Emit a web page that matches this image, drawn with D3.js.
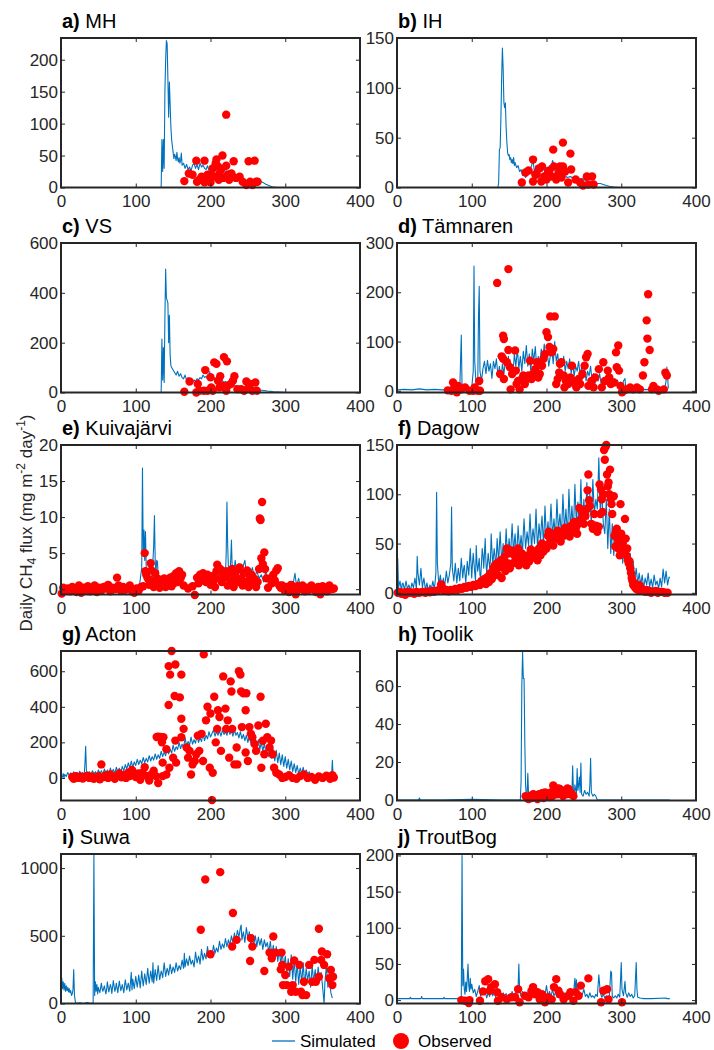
<!DOCTYPE html>
<html>
<head>
<meta charset="utf-8">
<script src="https://cdn.jsdelivr.net/npm/d3@7"></script>
<style>
  body { margin: 0; background: #fff; }
  text { font-family: "Liberation Sans", Arial, Helvetica, sans-serif; }
</style>
</head>
<body>
<div id="chart"></div>
<script>
// [day of year, daily CH4 flux]
const mhSim = [[1,0],[134,0],[135,75],[136,25],[137,75],[138,30],[139,150],[140,200],[141,230],[142,225],[143,170],[144,110],[145,165],[146,130],[147,95],[148,75],[149,65],[150,55],[151,45],[152,52],[153,48],[154,42],[155,55],[156,45],[157,40],[158,47],[159,38],[160,42],[161,54],[162,35],[164,38],[166,30],[168,36],[170,28],[172,32],[174,26],[176,35],[178,38],[180,30],[182,36],[184,28],[186,38],[188,32],[190,35],[192,30],[194,28],[196,34],[198,26],[200,30],[202,35],[204,28],[206,32],[208,30],[210,26],[212,32],[214,28],[216,30],[218,25],[220,30],[222,22],[224,26],[226,20],[228,22],[230,18],[232,20],[234,16],[236,18],[238,15],[240,14],[244,12],[248,10],[252,11],[256,8],[260,7],[264,6],[268,9],[270,8],[274,5],[278,3],[282,1],[286,0.5],[290,0],[365,0]];
const mhObs = [[165,10],[171,22],[176,20],[181,42],[182,9],[185,12],[188,17],[192,42],[192,8],[196,12],[196,20],[200,8],[201,20],[203,30],[205,17],[207,38],[208,44],[210,33],[211,12],[212,22],[214,28],[216,50],[217,15],[221,114],[221,34],[223,20],[225,12],[228,22],[231,41],[234,15],[239,17],[243,9],[248,4],[251,41],[253,9],[256,4],[259,42],[261,9],[263,9]];

const ihSim = [[1,0],[135,0],[136,5],[137,38],[138,40],[139,70],[140,110],[141,140],[142,120],[143,85],[144,80],[145,85],[146,60],[147,45],[148,35],[149,32],[150,33],[151,28],[152,30],[153,25],[154,28],[155,24],[156,30],[157,22],[158,25],[160,20],[162,22],[164,16],[166,18],[168,12],[170,14],[172,10],[174,12],[176,14],[178,18],[180,22],[182,27],[184,15],[186,22],[188,18],[190,14],[192,20],[194,16],[196,22],[198,16],[200,20],[202,14],[204,22],[206,18],[208,27],[210,24],[212,15],[214,18],[216,12],[218,14],[220,10],[224,12],[228,10],[232,11],[236,9],[240,10],[244,8],[248,9],[252,7],[256,6],[260,5],[264,5],[268,4],[272,4],[276,3],[280,2],[285,1],[290,0.5],[296,0],[365,0]];
const ihObs = [[167,5],[172,15],[176,17],[182,28],[182,6],[185,13],[187,13],[190,19],[193,6],[194,21],[197,11],[200,8],[202,15],[204,17],[207,11],[209,38],[210,21],[213,8],[216,14],[218,21],[220,10],[222,45],[222,21],[225,16],[229,5],[232,34],[233,18],[239,8],[245,5],[249,2],[254,11],[256,3],[261,11],[263,3]];

const vsSim = [[1,0],[134,0],[135,215],[136,50],[137,180],[138,40],[139,300],[140,495],[141,380],[142,370],[143,360],[144,200],[145,310],[146,150],[147,108],[148,100],[149,95],[150,90],[152,80],[154,70],[156,85],[158,65],[160,75],[162,60],[164,55],[166,70],[168,50],[170,60],[172,45],[174,55],[176,40],[178,50],[180,45],[182,55],[184,50],[186,60],[188,55],[190,70],[192,60],[194,65],[196,55],[198,75],[199,84],[200,60],[202,55],[204,62],[206,52],[208,58],[210,48],[212,52],[214,45],[216,48],[218,40],[220,44],[224,36],[228,32],[232,28],[236,25],[240,22],[244,20],[248,18],[252,15],[256,14],[260,12],[264,10],[268,9],[272,8],[276,6],[280,5],[284,3],[290,2],[296,1],[301,0],[365,0]];
const vsObs = [[165,3],[172,44],[181,0],[183,34],[185,7],[191,7],[193,90],[196,7],[200,61],[201,20],[203,7],[205,121],[208,115],[210,47],[212,20],[213,65],[216,27],[218,142],[221,7],[222,125],[223,27],[227,34],[230,47],[232,65],[236,13],[241,13],[245,7],[248,44],[251,20],[253,34],[256,7],[260,40],[262,7]];

const tamSim = [[1,2],[10,3],[20,2],[30,4],[40,2],[50,3],[60,2],[68,3],[75,4],[80,3],[84,5],[85,60],[86,113],[87,10],[90,4],[95,5],[100,6],[102,40],[103,253],[104,60],[106,8],[108,10],[109,150],[110,212],[111,40],[113,20],[115,45],[117,60],[119,35],[121,62],[123,40],[125,55],[127,25],[129,60],[131,45],[133,65],[135,30],[137,50],[139,20],[141,55],[143,35],[145,60],[147,45],[149,70],[151,40],[153,55],[155,30],[157,75],[159,50],[161,85],[163,45],[165,70],[167,40],[169,80],[171,55],[173,92],[175,50],[177,75],[179,40],[181,85],[183,60],[185,90],[187,45],[189,70],[191,55],[193,85],[195,65],[197,95],[199,60],[201,80],[203,50],[205,70],[207,85],[209,55],[211,100],[213,60],[215,75],[217,45],[219,65],[221,50],[223,70],[225,40],[227,60],[229,45],[231,65],[233,35],[235,55],[237,30],[239,50],[241,40],[243,60],[245,30],[247,50],[249,25],[251,45],[253,20],[255,40],[257,30],[259,50],[261,20],[263,35],[265,15],[267,30],[269,20],[271,35],[273,15],[275,25],[277,10],[279,30],[281,18],[283,35],[285,12],[287,28],[289,15],[291,25],[293,10],[295,22],[297,8],[299,18],[301,6],[303,20],[305,25],[306,4],[310,3],[320,2],[330,3],[340,2],[350,3],[358,4],[360,20],[361,48],[362,30],[363,5]];
const tamObs = [[68,1],[73,0],[75,17],[77,7],[80,-3],[82,10],[86,3],[91,7],[97,0],[102,0],[104,7],[108,0],[110,20],[111,0],[134,219],[149,247],[142,112],[143,105],[140,70],[142,65],[138,34],[143,24],[147,58],[149,83],[151,48],[152,3],[154,34],[158,82],[159,41],[160,14],[162,20],[164,3],[167,24],[169,31],[171,14],[173,24],[176,31],[178,61],[180,24],[182,34],[185,44],[187,58],[189,27],[191,34],[194,51],[196,65],[198,75],[200,119],[202,109],[204,89],[205,151],[207,78],[209,85],[211,151],[213,14],[215,24],[217,37],[218,55],[220,58],[223,31],[224,7],[226,20],[229,14],[232,27],[234,51],[236,20],[238,14],[240,7],[243,24],[245,14],[248,34],[251,51],[253,68],[255,75],[256,10],[260,20],[263,7],[265,27],[270,44],[274,7],[276,58],[278,20],[282,41],[284,27],[286,14],[290,17],[293,78],[296,92],[294,48],[297,41],[299,10],[301,-3],[303,0],[307,3],[312,7],[316,3],[321,7],[325,3],[329,31],[331,58],[334,143],[335,106],[336,196],[338,83],[341,3],[343,10],[348,3],[350,0],[357,3],[359,37],[361,31]];

const kuiSim = [[1,0.1],[20,0.2],[40,0.1],[60,0.2],[80,0.1],[100,0.2],[105,0.5],[108,3],[109,16.8],[110,5],[111,8.2],[112,4],[113,8],[114,3],[116,2],[118,1],[120,1.5],[122,2],[124,6],[125,10.2],[126,4],[127,2],[128,4],[129,3.8],[130,2],[132,1.5],[135,1],[140,1.5],[145,1],[150,2],[155,1.5],[160,1],[165,0.5],[170,0.3],[175,0.5],[180,1],[185,1.5],[190,1],[195,1.5],[200,1],[205,2],[210,1.5],[215,2],[218,3],[220,2],[221,5],[222,12.1],[223,6],[224,3],[226,2],[227,4],[228,6.8],[229,3],[231,2],[233,4],[235,2.5],[238,3.5],[240,2],[243,3],[246,4],[248,2],[250,3],[253,2],[256,3],[259,1.5],[262,2.5],[265,1.5],[268,2],[271,1],[274,2.5],[277,1],[280,2],[283,0.8],[286,1.5],[290,0.5],[295,1],[300,0.3],[305,1],[310,0.5],[313,2.2],[315,0.5],[318,1.5],[320,0.3],[330,0.2],[340,0.1],[350,0.1],[365,0]];
const kuiObs = [[1,-0.6],[3,0.2],[6,-0.2],[9,0.1],[12,-0.3],[15,0.3],[18,0],[21,-0.4],[24,0.5],[27,-0.5],[30,0.2],[33,-0.1],[36,0.4],[39,-0.3],[42,0.1],[45,0.5],[48,-0.4],[51,0.2],[54,-0.2],[57,0.3],[60,0.1],[63,0.6],[66,-0.3],[69,0.2],[72,0],[75,1.6],[77,0.5],[80,-0.2],[83,0.3],[86,-0.1],[89,0.2],[92,0.5],[95,-0.3],[98,-0.5],[101,0.1],[104,-0.2],[107,0.3],[110,0.4],[112,5.0],[113,2.5],[114,2.0],[116,1.5],[118,0.6],[120,3.6],[121,2.6],[123,1.2],[124,0.3],[126,2.2],[128,0.8],[130,1.4],[132,0.2],[134,1.0],[136,0.6],[138,1.5],[140,0.3],[142,1.2],[144,0.8],[146,1.6],[148,0.4],[150,1.8],[152,0.9],[154,2.2],[156,1.0],[158,2.5],[160,1.5],[162,2.0],[164,0.5],[170,0.1],[176,0.4],[179,-0.8],[182,1.6],[184,0.8],[186,2.0],[188,1.2],[190,2.2],[192,1.5],[194,1.0],[196,2.0],[198,1.4],[200,0.6],[202,1.8],[204,1.2],[206,0.3],[208,2.5],[209,3.4],[211,1.5],[213,2.8],[215,1.0],[217,2.2],[219,1.6],[221,2.5],[223,0.5],[225,2.0],[227,1.2],[229,2.8],[231,0.3],[233,1.8],[235,2.6],[237,1.0],[239,3.0],[241,1.5],[243,0.5],[245,2.2],[247,1.0],[249,2.6],[251,0.3],[253,1.6],[255,2.0],[257,0.8],[259,1.4],[261,0.3],[263,1.0],[265,2.8],[266,9.8],[267,9.6],[268,4.3],[269,12.1],[270,3.5],[272,5.1],[273,2.8],[275,1.5],[277,0.2],[280,1.5],[282,0.8],[284,2.0],[286,1.2],[288,2.6],[290,2.9],[292,0.5],[294,0.2],[296,0.5],[299,-0.2],[302,0.3],[305,-0.4],[308,0.6],[311,0.1],[314,-0.7],[317,0.4],[320,0],[323,0.5],[326,-0.3],[329,0.2],[332,-0.1],[335,0.5],[338,0],[341,-0.4],[344,0.3],[347,-0.7],[350,0.4],[353,0],[356,-0.3],[359,0.5],[362,0],[365,0.1]];

const dagSim = [[1,35],[2,5],[4,12],[6,2],[7,9],[8,10],[10,3],[12,12],[14,4],[15,6],[16,8],[18,2],[20,10],[22,5],[24,15],[26,4],[27,37],[28,20],[30,8],[32,25],[34,5],[35,11],[36,15],[38,3],[40,10],[42,2],[44,8],[46,4],[48,12],[50,3],[52,20],[53,102],[54,30],[56,8],[58,18],[60,5],[62,15],[63,9],[64,8],[66,22],[68,10],[70,18],[72,30],[73,87],[74,25],[76,12],[78,30],[79,20],[80,10],[82,25],[84,12],[86,35],[88,15],[89,24],[90,28],[92,10],[94,32],[96,18],[98,45],[100,15],[101,30],[102,40],[104,20],[105,12],[106,48],[107,30],[108,22],[110,35],[111,18],[112,15],[114,45],[115,38],[116,25],[118,55],[119,30],[120,20],[122,40],[124,25],[125,33],[126,60],[128,28],[130,45],[131,38],[132,22],[134,55],[136,30],[137,48],[138,62],[140,32],[141,40],[142,50],[144,28],[146,65],[147,50],[148,35],[150,55],[151,45],[152,40],[154,70],[156,38],[157,52],[158,60],[160,35],[162,68],[163,55],[164,42],[166,58],[168,40],[169,62],[170,75],[172,45],[174,62],[175,55],[176,48],[178,80],[180,42],[181,58],[182,65],[184,50],[186,85],[187,62],[188,45],[190,70],[192,52],[193,68],[194,78],[196,48],[198,88],[199,70],[200,55],[202,72],[204,50],[205,75],[206,90],[208,58],[210,75],[211,65],[212,55],[214,95],[216,60],[217,72],[218,80],[220,58],[222,100],[223,82],[224,62],[226,85],[228,60],[229,78],[230,105],[232,65],[234,88],[235,75],[236,62],[238,110],[240,68],[241,85],[242,92],[244,65],[246,115],[247,90],[248,70],[250,95],[252,68],[253,88],[254,112],[256,75],[258,100],[259,82],[260,70],[262,115],[264,80],[266,95],[268,85],[270,137],[272,80],[274,105],[276,70],[278,60],[280,95],[282,45],[284,85],[286,40],[288,70],[290,38],[292,60],[294,42],[296,55],[298,35],[300,62],[302,30],[304,50],[306,28],[308,45],[310,22],[312,40],[314,18],[316,32],[318,12],[320,25],[322,10],[324,20],[326,8],[328,18],[330,5],[332,15],[334,8],[336,20],[338,6],[340,14],[342,5],[344,18],[346,8],[348,12],[350,4],[352,15],[354,6],[356,24],[358,10],[360,22],[362,8],[364,16],[365,15]];
const dagObs = [[1,0],[3,1],[6,-1],[9,0.5],[11,-2],[14,1],[17,0],[20,0.5],[23,-1],[26,1],[29,0],[32,0.5],[35,1],[38,0],[41,1.5],[44,0.5],[47,2],[50,1],[53,2],[56,3],[59,8.5],[61,5],[63,2],[66,3],[69,1.5],[72,3],[75,2.5],[78,4],[81,3],[84,5],[87,4],[90,6],[93,5],[96,7],[99,6],[102,8],[105,7],[108,9],[111,8],[113,12],[115,10],[117,14],[119,9],[121,16],[123,11],[125,20],[127,14],[129,25],[130,18],[131,28],[132,22],[134,30],[135,18],[137,26],[139,33],[140,15],[142,28],[144,37],[145,22],[147,45],[148,30],[150,40],[151,25],[153,43],[155,30],[157,38],[158,42],[160,32],[162,45],[163,28],[165,35],[167,40],[169,30],[171,35],[173,28],[175,38],[177,32],[179,44],[180,38],[182,36],[184,42],[186,40],[188,33],[190,45],[192,38],[194,50],[196,42],[198,48],[200,45],[202,58],[203,62],[205,52],[207,55],[209,48],[211,60],[213,55],[215,63],[217,58],[219,52],[221,62],[223,58],[225,66],[227,60],[229,64],[231,57],[233,68],[235,62],[237,72],[239,65],[241,60],[243,70],[244,86],[246,75],[248,82],[250,70],[252,78],[254,85],[255,104],[256,120],[257,94],[258,88],[260,70],[262,65],[264,80],[266,68],[268,62],[270,67],[271,110],[272,80],[273,105],[274,95],[275,82],[276,100],[277,145],[278,135],[279,148],[280,150],[281,120],[282,108],[283,112],[284,100],[285,125],[286,95],[287,90],[288,80],[290,98],[291,58],[292,47],[293,62],[294,65],[295,55],[296,45],[297,52],[298,38],[299,90],[300,60],[301,55],[302,50],[303,45],[304,40],[305,75],[306,55],[307,38],[308,45],[309,33],[310,30],[311,32],[312,25],[313,20],[314,15],[315,12],[316,8],[317,10],[318,6],[320,4],[322,3],[324,8],[326,2],[328,4],[330,2],[332,1],[334,3],[336,1],[338,2],[340,0],[343,1],[346,2],[349,0],[352,1],[355,1],[358,0],[362,0]];

const actSim = [[1,10],[2,5],[3,25],[4,0],[5,20],[7,8],[9,30],[11,15],[13,28],[15,10],[17,35],[19,18],[21,30],[23,12],[25,38],[27,20],[29,30],[31,15],[32,80],[33,178],[34,40],[36,20],[38,35],[40,15],[42,40],[44,22],[46,35],[48,18],[50,45],[52,25],[54,40],[56,20],[58,50],[60,28],[62,45],[64,22],[66,55],[68,30],[70,48],[72,25],[74,60],[76,35],[78,55],[80,30],[82,65],[84,40],[86,75],[88,50],[90,85],[92,55],[94,95],[96,60],[98,90],[100,70],[102,105],[104,75],[106,100],[108,80],[110,115],[112,85],[114,110],[116,90],[118,125],[120,95],[122,120],[124,100],[126,135],[128,105],[130,130],[132,110],[134,150],[136,120],[138,145],[140,125],[142,165],[144,135],[146,160],[148,140],[150,185],[152,150],[154,175],[156,160],[158,200],[160,165],[162,190],[164,170],[166,225],[168,180],[170,205],[172,185],[174,230],[176,190],[178,215],[180,195],[182,240],[184,200],[186,225],[188,205],[190,250],[192,210],[194,240],[196,220],[198,260],[200,230],[202,250],[204,270],[206,235],[208,260],[210,240],[212,265],[214,235],[216,270],[218,245],[220,260],[222,240],[224,275],[226,245],[228,265],[230,235],[232,270],[234,240],[236,255],[238,225],[240,260],[242,220],[244,245],[246,210],[248,240],[250,200],[252,235],[254,195],[256,240],[258,185],[260,225],[262,175],[264,215],[266,160],[268,200],[270,150],[272,195],[274,140],[276,185],[278,120],[280,175],[282,110],[284,160],[286,95],[288,155],[290,85],[292,140],[294,75],[296,130],[298,65],[300,120],[302,55],[304,105],[306,45],[308,95],[310,35],[312,80],[314,30],[316,70],[318,20],[320,55],[322,25],[324,60],[326,15],[328,45],[330,20],[332,35],[334,10],[336,25],[338,5],[340,18],[342,3],[344,12],[346,2],[348,10],[350,0],[352,8],[354,2],[356,6],[358,0],[360,5],[362,10],[363,99],[364,15],[365,10]];
const actObs = [[15,5],[17,-5],[20,10],[23,0],[26,8],[29,-3],[32,5],[35,12],[38,0],[41,8],[44,-5],[47,3],[50,10],[52,-8],[54,76],[57,5],[60,15],[63,0],[66,20],[69,8],[72,-5],[75,10],[78,25],[81,3],[84,15],[87,0],[90,30],[92,10],[95,45],[97,20],[100,5],[103,25],[106,-10],[109,30],[112,60],[115,10],[118,-15],[121,20],[124,40],[127,10],[128,230],[130,-29],[133,230],[135,200],[130,232],[137,229],[136,10],[136,86],[141,19],[141,162],[144,410],[144,629],[145,57],[146,581],[148,714],[150,114],[152,461],[153,638],[153,210],[154,86],[159,453],[161,581],[161,333],[161,229],[164,276],[168,171],[170,114],[172,152],[174,19],[176,76],[179,95],[181,133],[183,238],[185,152],[188,248],[190,95],[191,695],[194,324],[196,400],[199,57],[200,362],[202,-125],[203,29],[205,457],[207,200],[209,276],[210,381],[212,343],[214,152],[217,571],[220,390],[221,276],[223,324],[225,114],[227,543],[228,486],[229,276],[232,76],[235,171],[236,76],[238,600],[240,581],[241,486],[242,286],[244,476],[247,381],[247,143],[248,476],[250,95],[252,286],[254,248],[256,229],[259,190],[261,152],[264,295],[267,457],[268,57],[270,209],[272,133],[274,305],[276,229],[279,171],[281,210],[283,133],[285,57],[288,29],[292,19],[296,0],[300,5],[305,15],[310,0],[315,-5],[320,10],[325,20],[330,0],[335,5],[340,-10],[345,8],[350,0],[355,12],[360,-5],[363,15],[365,2]];

const tooSim = [[1,0],[29,0],[30,1],[31,0],[60,0],[100,0.3],[140,0],[165,0],[166,10],[167,60],[168,78],[169,64],[170,64],[171,30],[172,8],[173,2],[174,3],[175,14],[176,3],[178,2],[180,3],[182,1.5],[184,5],[186,2],[188,4],[190,2.5],[192,3.5],[194,2],[196,4],[198,3],[200,2],[202,3],[204,4],[206,2.5],[208,5],[210,3],[212,6],[214,4],[216,3],[218,5],[220,3],[222,4],[224,2],[226,3],[228,2],[230,3],[232,2],[234,4],[235,18],[236,5],[237,2],[238,8],[240,3],[241,16.5],[242,5],[243,8],[244,12],[245,4],[246,19.5],[247,3],[249,2],[251,5],[253,3],[255,4],[257,2],[258,8],[259,22],[260,4],[262,2],[264,3],[266,2],[268,0],[365,0]];
const tooObs = [[172,2],[174,1],[176,0.5],[178,2],[180,1],[182,3],[184,1.5],[186,2.5],[188,0.5],[190,3],[192,2],[194,3.5],[196,1],[198,4],[200,2.5],[202,3],[204,1.5],[206,4],[208,2],[209,7.6],[210,7],[212,5.5],[214,3],[216,6],[218,5.8],[220,5],[222,2],[224,4.5],[226,3],[228,6],[229,5.8],[230,5.5],[232,3],[234,3.2],[236,2]];

const suwSim = [[1,190],[2,110],[3,160],[4,100],[5,150],[6,90],[7,130],[8,95],[9,120],[10,85],[11,110],[12,80],[13,95],[14,60],[15,70],[16,100],[17,250],[18,60],[19,20],[20,0],[25,5],[30,0],[35,8],[40,0],[43,5],[44,1100],[45,60],[46,160],[47,90],[48,140],[49,70],[50,120],[51,95],[52,80],[54,150],[55,110],[56,90],[58,130],[60,70],[61,100],[62,160],[64,85],[66,140],[67,120],[68,75],[70,170],[72,90],[73,110],[74,150],[76,80],[78,165],[79,130],[80,95],[82,140],[84,80],[86,175],[87,140],[88,100],[90,150],[92,90],[94,230],[95,100],[96,180],[98,110],[100,200],[101,160],[102,120],[104,210],[106,115],[108,240],[109,180],[110,130],[112,220],[114,140],[116,260],[117,200],[118,150],[120,240],[122,160],[123,300],[124,150],[126,250],[127,210],[128,170],[130,280],[132,175],[134,240],[135,220],[136,190],[138,300],[140,200],[142,260],[143,240],[144,210],[146,290],[148,220],[150,270],[151,250],[152,230],[154,300],[156,240],[158,280],[159,265],[160,250],[162,320],[164,260],[165,370],[166,270],[168,330],[170,280],[172,350],[173,320],[174,290],[176,320],[178,270],[180,380],[182,300],[184,350],[185,330],[186,290],[188,400],[190,320],[192,370],[194,330],[196,420],[197,380],[198,340],[200,380],[202,350],[204,430],[206,370],[208,410],[209,395],[210,380],[212,460],[214,400],[216,440],[218,410],[220,480],[221,450],[222,420],[224,470],[226,430],[228,500],[230,450],[232,520],[233,490],[234,470],[236,540],[238,490],[240,560],[241,580],[242,470],[244,530],[246,450],[248,560],[250,480],[252,530],[254,430],[256,510],[258,440],[260,500],[262,420],[264,490],[266,430],[268,480],[270,400],[272,470],[274,420],[276,450],[278,380],[280,460],[282,360],[284,430],[286,330],[288,420],[290,310],[292,400],[294,290],[296,380],[298,260],[300,350],[302,230],[304,330],[306,200],[308,360],[310,180],[312,320],[314,160],[316,300],[318,140],[320,280],[322,150],[324,300],[326,130],[328,260],[330,170],[332,240],[334,120],[336,280],[338,160],[340,250],[342,140],[344,270],[346,170],[348,230],[350,120],[352,0],[353,150],[355,280],[357,120],[359,200],[361,80],[363,40]];
const suwObs = [[187,545],[193,916],[200,364],[213,970],[230,668],[229,421],[235,470],[254,483],[253,314],[256,421],[272,240],[284,495],[279,376],[282,334],[287,376],[294,252],[295,376],[296,285],[297,136],[300,210],[302,136],[305,272],[308,87],[310,136],[312,317],[314,87],[319,285],[321,87],[323,62],[325,161],[328,62],[332,285],[336,161],[339,322],[341,161],[345,552],[345,198],[348,322],[349,384],[352,285],[356,364],[359,186],[361,248],[363,136],[364,198]];

const trbSim = [[1,2],[17,2],[18,4],[19,2],[32,2],[33,5],[34,2],[62,2],[63,4],[64,2],[86,2],[87,200],[88,20],[89,43],[90,15],[91,8],[92,25],[93,12],[94,30],[95,50],[96,20],[97,12],[98,30],[99,15],[100,22],[102,10],[104,15],[106,5],[108,12],[110,20],[112,5],[114,15],[116,8],[118,12],[120,3],[122,10],[124,5],[126,15],[128,6],[130,10],[132,4],[134,12],[136,6],[138,8],[140,4],[142,10],[144,5],[146,9],[148,4],[150,8],[152,5],[154,12],[156,4],[158,10],[160,6],[162,18],[163,50],[164,15],[166,5],[168,12],[170,4],[172,10],[174,6],[176,15],[178,5],[180,12],[182,6],[184,10],[186,5],[188,15],[190,6],[192,12],[194,4],[196,10],[198,8],[200,20],[202,5],[204,12],[206,4],[208,15],[210,6],[212,10],[214,4],[216,12],[218,5],[220,8],[222,4],[224,10],[226,5],[228,8],[230,4],[232,12],[234,5],[236,8],[238,30],[239,10],[240,28],[242,6],[244,10],[246,4],[248,8],[250,15],[252,5],[254,8],[256,3],[258,10],[260,4],[262,6],[264,3],[266,8],[268,5],[270,35],[272,10],[274,4],[276,8],[278,3],[280,6],[282,3],[284,5],[286,40],[287,38],[288,5],[290,3],[292,6],[294,3],[296,8],[298,4],[300,52],[301,15],[303,6],[305,26],[306,10],[308,4],[310,10],[312,5],[314,8],[316,3],[318,6],[320,52],[321,15],[322,4],[325,3],[330,2],[340,2],[360,3],[361,2],[365,2]];
const trbObs = [[86,0],[91,-1],[96,-4],[97,0],[111,-1],[115,12],[118,26],[122,29],[124,13],[126,18],[131,22],[134,11],[135,-1],[140,4],[147,1],[153,4],[158,4],[162,15],[164,-3],[171,6],[176,4],[180,13],[182,18],[185,8],[188,11],[191,1],[194,8],[198,-3],[202,4],[207,1],[210,18],[213,29],[216,13],[218,8],[223,1],[229,6],[232,11],[236,-1],[239,11],[243,6],[246,20],[256,30],[273,-3],[276,13],[281,15],[283,1],[301,-3]];

const xTicks = [0, 100, 200, 300, 400];

const panels = [
  {tag: "a)", name: "MH", sim: mhSim, obs: mhObs, ylim: [0, 234], yTicks: [0, 50, 100, 150, 200]},
  {tag: "b)", name: "IH", sim: ihSim, obs: ihObs, ylim: [0, 150], yTicks: [0, 50, 100, 150]},
  {tag: "c)", name: "VS", sim: vsSim, obs: vsObs, ylim: [0, 600], yTicks: [0, 200, 400, 600]},
  {tag: "d)", name: "Tämnaren", sim: tamSim, obs: tamObs, ylim: [-3.4, 300], yTicks: [0, 100, 200, 300]},
  {tag: "e)", name: "Kuivajärvi", sim: kuiSim, obs: kuiObs, ylim: [-0.74, 20], yTicks: [0, 5, 10, 15, 20]},
  {tag: "f)", name: "Dagow", sim: dagSim, obs: dagObs, ylim: [-1.7, 150], yTicks: [0, 50, 100, 150]},
  {tag: "g)", name: "Acton", sim: actSim, obs: actObs, ylim: [-127, 714], yTicks: [0, 200, 400, 600]},
  {tag: "h)", name: "Toolik", sim: tooSim, obs: tooObs, ylim: [-0.3, 78.5], yTicks: [0, 20, 40, 60]},
  {tag: "i)", name: "Suwa", sim: suwSim, obs: suwObs, ylim: [0, 1104], yTicks: [0, 500, 1000]},
  {tag: "j)", name: "TroutBog", sim: trbSim, obs: trbObs, ylim: [-4.7, 202], yTicks: [0, 50, 100, 150, 200]}
];

const width = 714, height = 1050;
const colX = [61, 397];
const rowY = [38, 243, 445, 651, 854];
const pw = 299, ph = 149.5;
const axisColor = "#262626";
const simColor = "#0072BD";
const obsColor = "#FF0000";

const svg = d3.select("#chart")
    .append("svg")
    .attr("width", width)
    .attr("height", height);

panels.forEach((p, i) => {
    const left = colX[i % 2], top = rowY[Math.floor(i / 2)];
    const g = svg.append("g").attr("transform", `translate(${left},${top})`);

    const x = d3.scaleLinear().domain([0, 400]).range([0, pw]);
    const y = d3.scaleLinear().domain(p.ylim).range([ph, 0]);

    g.append("clipPath").attr("id", `clip${i}`)
        .append("rect").attr("width", pw).attr("height", ph);

    const line = d3.line().x(d => x(d[0])).y(d => y(d[1]));
    g.append("path")
        .datum(p.sim)
        .attr("clip-path", `url(#clip${i})`)
        .attr("fill", "none")
        .attr("stroke", simColor)
        .attr("stroke-width", 1.1)
        .attr("stroke-linejoin", "round")
        .attr("d", line);

    g.selectAll("circle.obs")
        .data(p.obs)
        .enter()
        .append("circle")
            .classed("obs", true)
            .attr("cx", d => x(d[0]))
            .attr("cy", d => y(d[1]))
            .attr("r", 4.2)
            .attr("fill", obsColor);

    const styleAxis = sel => {
        sel.select(".domain").remove();
        sel.selectAll(".tick line").attr("stroke", axisColor).attr("stroke-width", 1);
        sel.selectAll("text")
            .attr("fill", axisColor)
            .style("font-size", "17px")
            .style("font-family", '"Liberation Sans", Arial, sans-serif');
    };

    g.append("g")
        .attr("transform", `translate(0,${ph})`)
        .call(d3.axisBottom(x).tickValues(xTicks).tickFormat(d3.format("d")).tickSizeInner(-4).tickSizeOuter(0).tickPadding(7))
        .call(styleAxis);
    g.append("g")
        .call(d3.axisTop(x).tickValues(xTicks).tickSizeInner(-4).tickSizeOuter(0).tickFormat(""))
        .call(styleAxis);
    g.append("g")
        .call(d3.axisLeft(y).tickValues(p.yTicks).tickFormat(d3.format("d")).tickSizeInner(-4).tickSizeOuter(0).tickPadding(3))
        .call(styleAxis);
    g.append("g")
        .attr("transform", `translate(${pw},0)`)
        .call(d3.axisRight(y).tickValues(p.yTicks).tickSizeInner(-4).tickSizeOuter(0).tickFormat(""))
        .call(styleAxis);

    g.append("rect")
        .attr("width", pw)
        .attr("height", ph)
        .attr("fill", "none")
        .attr("stroke", axisColor)
        .attr("stroke-width", 2);

    const title = g.append("text")
        .attr("x", 1)
        .attr("y", -10)
        .attr("fill", "#000")
        .style("font-size", "20px");
    title.append("tspan").attr("font-weight", "bold").text(p.tag);
    title.append("tspan").text(" " + p.name);
});

// y-axis label
const ylab = svg.append("text")
    .attr("transform", "translate(32,523) rotate(-90)")
    .attr("text-anchor", "middle")
    .attr("fill", axisColor)
    .style("font-size", "17px");
ylab.append("tspan").text("Daily CH");
ylab.append("tspan").attr("dy", 4).style("font-size", "12px").text("4");
ylab.append("tspan").attr("dy", -4).text(" flux (mg m");
ylab.append("tspan").attr("dy", -7).style("font-size", "12px").text("-2");
ylab.append("tspan").attr("dy", 7).text(" day");
ylab.append("tspan").attr("dy", -7).style("font-size", "12px").text("-1");
ylab.append("tspan").attr("dy", 7).text(")");

// legend
const legend = svg.append("g").attr("transform", "translate(0,1041)");
legend.append("line")
    .attr("x1", 272).attr("x2", 295)
    .attr("y1", 0).attr("y2", 0)
    .attr("stroke", simColor)
    .attr("stroke-width", 1.3);
legend.append("text")
    .attr("x", 300).attr("y", 6)
    .attr("fill", "#000")
    .style("font-size", "17px")
    .text("Simulated");
legend.append("circle")
    .attr("cx", 401).attr("cy", 0)
    .attr("r", 8)
    .attr("fill", obsColor);
legend.append("text")
    .attr("x", 418).attr("y", 6)
    .attr("fill", "#000")
    .style("font-size", "17px")
    .text("Observed");
</script>
</body>
</html>
